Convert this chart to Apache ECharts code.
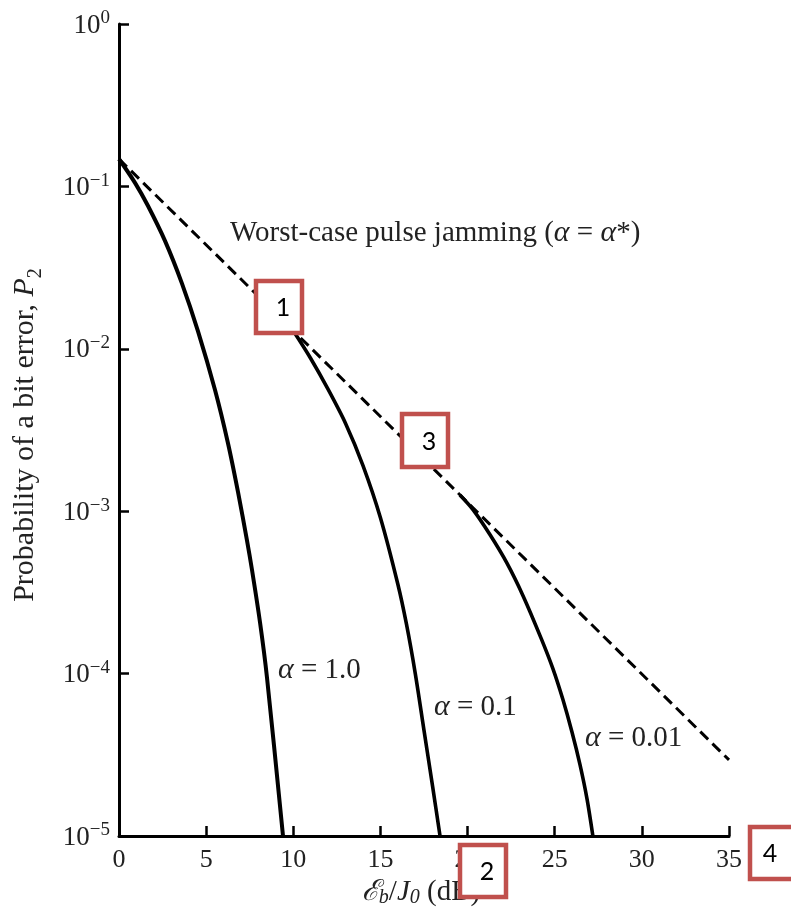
<!DOCTYPE html>
<html>
<head>
<meta charset="utf-8">
<script src="https://cdn.jsdelivr.net/npm/echarts@6/dist/echarts.min.js"></script>
<style>
html,body{margin:0;padding:0;background:#fff;}
#chart{width:791px;height:913px;}
</style>
</head>
<body>
<div id="chart"></div>
<script>
// ---- data ----
const worstCaseX = [0, 35];
const worstCaseP = [0.1475, 2.94e-5];

const alpha1X = [0, 0.92, 1.66, 2.64, 3.61, 4.53, 5.51, 6.25, 6.83, 7.34, 7.63, 8.09, 8.49, 9.41];
const alpha1P = [0.1475, 0.1052, 0.0760, 0.0462, 0.0253, 0.01285, 5.57e-3, 2.63e-3, 1.31e-3, 6.64e-4, 4.36e-4, 2.07e-4, 9.48e-5, 1e-5];

const alpha01X = [10, 11, 12, 13, 14, 15, 16, 16.5, 17, 17.5, 18, 18.42];
const alpha01P = [0.0129, 8.71e-3, 5.62e-3, 3.47e-3, 1.91e-3, 9.12e-4, 3.55e-4, 2.0e-4, 1.0e-4, 4.47e-5, 2.0e-5, 1e-5];

const alpha001X = [19.56, 20.31, 21.29, 22.26, 23.18, 24.21, 24.90, 25.47, 25.99, 26.45, 26.85, 27.19];
const alpha001P = [1.259e-3, 1.023e-3, 7.16e-4, 4.79e-4, 3.02e-4, 1.66e-4, 1.07e-4, 6.92e-5, 4.37e-5, 2.75e-5, 1.70e-5, 1e-5];

const yTickValues = [1, 0.1, 0.01, 0.001, 0.0001, 0.00001];
const yTickExps = ['0', '\u22121', '\u22122', '\u22123', '\u22124', '\u22125'];
const curveLabels = ['1.0', '0.1', '0.01'];
const boxLabels = ['1', '2', '3', '4'];

function pairs(xs, ys) { return xs.map((x, i) => [x, ys[i]]); }

const SERIF = '"Liberation Serif", "DejaVu Serif", serif';
const SANS = 'Lato, "Open Sans", "Liberation Sans", sans-serif';
const BOX = '#C0504D';

const chart = echarts.init(document.getElementById('chart'), null, {renderer: 'canvas'});

function box(x, y, w, h, label, tx) {
  return [
    {type: 'rect', shape: {x: x + 2, y: y + 2, width: w - 4, height: h - 4},
     style: {fill: '#fff', stroke: BOX, lineWidth: 4.5}, z: 100},
    {type: 'text', x: x + w / 2 + (tx || 0), y: y + h / 2 + 1,
     style: {text: label, font: '25px ' + SANS, fill: '#000', align: 'center', verticalAlign: 'middle'}, z: 101}
  ];
}

function alphaLabel(x, y, v) {
  return {type: 'text', x: x, y: y, z: 50,
    style: {text: '{a|\u03b1}{n| = ' + v + '}', align: 'left', verticalAlign: 'middle',
      rich: {a: {font: 'italic 30px ' + SERIF, fill: '#222'}, n: {font: '29px ' + SERIF, fill: '#222'}}}};
}

const lineCommon = {showSymbol: false, symbol: 'none', smooth: 0.3};

const option = {
  backgroundColor: '#fff',
  animation: false,
  grid: {left: 119, right: 62, top: 24, bottom: 77, containLabel: false, outerBoundsMode: 'none'},
  xAxis: {
    type: 'value', min: 0, max: 35, interval: 5,
    axisLine: {show: true, onZero: false, lineStyle: {color: '#000', width: 3}},
    axisTick: {show: true, inside: true, length: 10, lineStyle: {color: '#000', width: 2.5}},
    axisLabel: {margin: 11, color: '#222', fontFamily: SERIF, fontSize: 26},
    splitLine: {show: false}
  },
  yAxis: {
    type: 'log', logBase: 10, min: 1e-5, max: 1,
    axisLine: {show: true, onZero: false, lineStyle: {color: '#000', width: 3}},
    axisTick: {show: true, inside: true, length: 10, lineStyle: {color: '#000', width: 2.5}},
    minorTick: {show: false},
    splitLine: {show: false},
    axisLabel: {
      margin: 9, color: '#222',
      formatter: function (v) {
        let i = yTickValues.findIndex(t => Math.abs(Math.log10(t) - Math.log10(v)) < 1e-6);
        return '{b|10}{s|' + (i >= 0 ? yTickExps[i] : '') + '}';
      },
      rich: {
        b: {fontFamily: SERIF, fontSize: 27, color: '#222', lineHeight: 30, verticalAlign: 'bottom'},
        s: {fontFamily: SERIF, fontSize: 19, color: '#222', lineHeight: 16, verticalAlign: 'top'}
      }
    }
  },
  series: [
    Object.assign({type: 'line', name: 'worst', data: pairs(worstCaseX, worstCaseP),
     lineStyle: {color: '#000', width: 3, type: [11, 6]}, z: 3}, {showSymbol: false, symbol: 'none'}),
    Object.assign({type: 'line', name: 'a1', data: pairs(alpha1X, alpha1P),
     lineStyle: {color: '#000', width: 4}, z: 4}, lineCommon),
    Object.assign({type: 'line', name: 'a01', data: pairs(alpha01X, alpha01P),
     lineStyle: {color: '#000', width: 3.6}, z: 4}, lineCommon),
    Object.assign({type: 'line', name: 'a001', data: pairs(alpha001X, alpha001P),
     lineStyle: {color: '#000', width: 3.6}, z: 4}, lineCommon)
  ],
  graphic: [
    {type: 'text', x: 230, y: 233, z: 50,
     style: {text: '{n|Worst-case pulse jamming (}{a|\u03b1}{n| = }{a|\u03b1}{n|*)}', align: 'left', verticalAlign: 'middle',
       rich: {n: {font: '29px ' + SERIF, fill: '#222'}, a: {font: 'italic 30px ' + SERIF, fill: '#222'}}}},
    alphaLabel(278, 670, curveLabels[0]),
    alphaLabel(434, 707, curveLabels[1]),
    alphaLabel(585, 738, curveLabels[2]),
    {type: 'text', x: 28, y: 435, rotation: Math.PI / 2, z: 50,
     style: {text: '{n|Probability of a bit error, }{p|P}{s|2}', align: 'center', verticalAlign: 'middle',
       rich: {n: {font: '30px ' + SERIF, fill: '#222', lineHeight: 36, verticalAlign: 'top'},
              p: {font: 'italic 30px ' + SERIF, fill: '#222', lineHeight: 36, verticalAlign: 'top'},
              s: {font: '20px ' + SERIF, fill: '#222', lineHeight: 18, verticalAlign: 'bottom'}}}},
    {type: 'text', x: 421, y: 893, z: 50,
     style: {text: '{e|\u2130}{s|b}{n|/}{j|J}{s|0}{n| (dB)}', align: 'center', verticalAlign: 'middle',
       rich: {e: {font: 'italic 29px ' + SERIF, fill: '#222', lineHeight: 30, verticalAlign: 'top'},
              j: {font: 'italic 29px ' + SERIF, fill: '#222', lineHeight: 30, verticalAlign: 'top'},
              n: {font: '29px ' + SERIF, fill: '#222', lineHeight: 30, verticalAlign: 'top'},
              s: {font: 'italic 20px ' + SERIF, fill: '#222', lineHeight: 16, verticalAlign: 'bottom'}}}}
  ].concat(box(254, 279, 50, 56, boxLabels[0], 4))
   .concat(box(458, 843, 50, 56, boxLabels[1], 4))
   .concat(box(400, 412, 50, 57, boxLabels[2], 4))
   .concat(box(748, 825, 50, 56, boxLabels[3], -3))
};
chart.setOption(option);
</script>
</body>
</html>
